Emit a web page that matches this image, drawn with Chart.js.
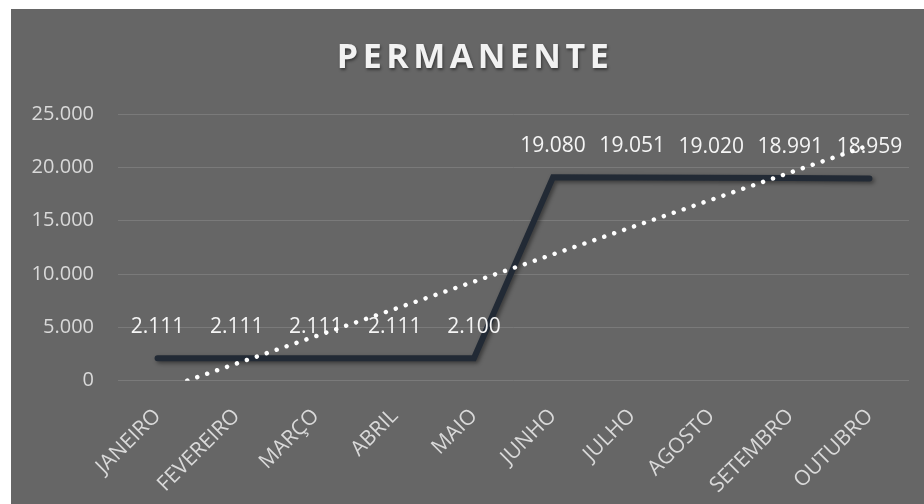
<!DOCTYPE html>
<html><head><meta charset="utf-8">
<script src="https://cdn.jsdelivr.net/npm/chart.js@4"></script>
<style>
html,body{margin:0;padding:0;background:#fff;width:924px;height:504px;overflow:hidden}
#wrap{position:absolute;left:11px;top:9px;width:913px;height:495px;background:#666666}
canvas{display:block}
</style></head><body>
<div id="wrap"><canvas id="c" width="913" height="495"></canvas></div>
<script>
const titleText = 'PERMANENTE';
const months = ['JANEIRO','FEVEREIRO','MARÇO','ABRIL','MAIO','JUNHO','JULHO','AGOSTO','SETEMBRO','OUTUBRO'];
const permanente = [2111,2111,2111,2111,2100,19080,19051,19020,18991,18959];
const trendLine = [-948,1610,4169,6727,9286,11844,14403,16961,19520,22078];
const yTicks = [0,5000,10000,15000,20000,25000];
const yTickLabels = ['0','5.000','10.000','15.000','20.000','25.000'];

function fmt(v){ return String(v).replace(/\B(?=(\d{3})+(?!\d))/g,'.'); }

const titlePlugin = {
  id:'titleDraw',
  afterDraw(chart){
    const ctx = chart.ctx;
    ctx.save();
    ctx.font = 'bold 34px "Open Sans"';
    ctx.letterSpacing = '4.5px';
    ctx.fillStyle = '#f2f2f2';
    ctx.textAlign = 'center';
    ctx.textBaseline = 'alphabetic';
    ctx.shadowColor = 'rgba(0,0,0,0.45)';
    ctx.shadowBlur = 3;
    ctx.shadowOffsetX = 1;
    ctx.shadowOffsetY = 2;
    ctx.fillText(titleText, 464, 58.5);
    ctx.restore();
  }
};

const mainPlugin = {
  id:'mainLine',
  beforeDatasetDraw(chart,args){
    if(args.index!==1) return;
    const ctx = chart.ctx;
    ctx.save();
    ctx.shadowColor = 'rgba(0,0,0,0.45)';
    ctx.shadowBlur = 4;
    ctx.shadowOffsetX = 2;
    ctx.shadowOffsetY = 2;
  },
  afterDatasetDraw(chart,args){
    if(args.index!==1) return;
    const ctx = chart.ctx;
    ctx.restore();
    const meta = chart.getDatasetMeta(1);
    ctx.save();
    ctx.font = '21px "Open Sans"';
    ctx.fillStyle = '#f5f5f5';
    ctx.textAlign = 'center';
    ctx.textBaseline = 'alphabetic';
    meta.data.forEach((pt,i)=>{
      ctx.fillText(fmt(permanente[i]), pt.x, pt.y - 25);
    });
    ctx.restore();
  }
};

new Chart(document.getElementById('c'), {
  type:'line',
  data:{
    labels: months,
    datasets:[
      {
        label:'Linear (PERMANENTE)',
        data: trendLine,
        borderColor:'#ffffff',
        borderWidth:4.5,
        borderDash:[0.001,10.5],
        borderCapStyle:'round',
        pointRadius:0,
        fill:false,
        tension:0,
        clip:0
      },
      {
        label:'PERMANENTE',
        data: permanente,
        borderColor:'#222a35',
        borderWidth:6,
        borderCapStyle:'round',
        borderJoinStyle:'miter',
        pointRadius:0,
        fill:false,
        tension:0
      }
    ]
  },
  options:{
    responsive:false,
    devicePixelRatio:1,
    animation:false,
    layout:{padding:{top:105,right:15,left:0,bottom:0}},
    plugins:{legend:{display:false},tooltip:{enabled:false},title:{display:false}},
    scales:{
      x:{
        offset:true,
        grid:{display:false},
        border:{display:false},
        ticks:{
          color:'#d9d9d9',
          font:{family:'"Open Sans"',size:21},
          maxRotation:45,minRotation:45,
          autoSkip:false,
          padding:15
        },
        afterFit(s){ s.height = 123.3; }
      },
      y:{
        min:0,max:25000,
        grid:{color:'#7a7a7a',lineWidth:1,drawTicks:false},
        border:{display:false},
        ticks:{
          stepSize:5000,
          color:'#d9d9d9',
          font:{family:'"Open Sans"',size:20},
          padding:24,
          callback:(v)=>{ const k=yTicks.indexOf(v); return k>=0?yTickLabels[k]:''; }
        },
        afterFit(s){ s.width = 107; }
      }
    }
  },
  plugins:[titlePlugin, mainPlugin]
});
</script>
</body></html>
